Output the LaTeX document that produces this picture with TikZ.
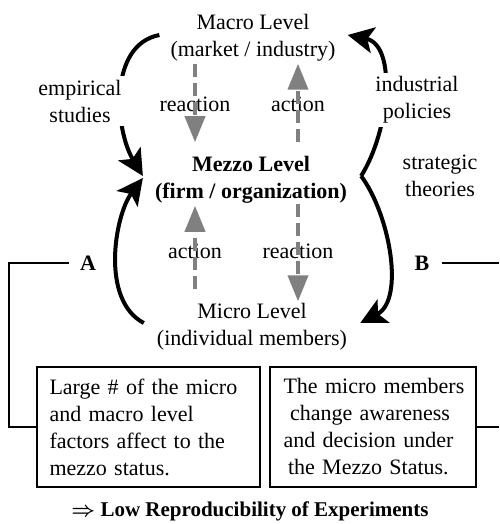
\documentclass[tikz,border=0pt]{standalone}
\usepackage{fontspec}
\setmainfont{Liberation Serif}
\usetikzlibrary{arrows.meta}

\newcommand{\spreadline}[2]{\makebox[#1][s]{#2}}

\begin{document}
\begin{tikzpicture}[x=1pt,y=1pt,font=\fontsize{22}{27}\selectfont]
  \tikzstyle{level} =[align=center, inner sep=2pt]
  \tikzstyle{flow}  =[draw=gray, line width=4pt, dash pattern=on 13pt off 6pt, -{Triangle[length=26pt,width=20pt]}]
  \tikzstyle{bigarc}=[line width=4pt, -{Stealth[length=26pt,width=26pt,inset=6pt]}]
  \tikzstyle{note}  =[draw, line width=1.2pt, minimum height=120pt, inner ysep=4pt]
  \tikzstyle{boldtext}=[font=\fontsize{22}{27}\selectfont\bfseries]
  \useasboundingbox (0,0) rectangle (499,-524);
  % the three levels
  \node[level](macro) at (253,-38) {Macro Level\\(market / industry)};
  \node[level,boldtext](mezzo) at (251,-180) {Mezzo Level\\(firm / organization)};
  \node[level](micro) at (252,-327) {Micro Level\\(individual members)};
  % action / reaction
  \node(r1) at (195,-104) {reaction};
  \node(a1) at (298,-104) {action};
  \node(a2) at (195,-251) {action};
  \node(r2) at (298,-251) {reaction};
  \draw[flow, shorten >=12pt] (r1 |- macro.south) -- (r1 |- mezzo.north);
  \draw[flow, shorten <=12pt] (a1 |- mezzo.north) -- (a1 |- macro.south);
  \draw[flow, shorten <=12pt] (a2 |- micro.north) -- (a2 |- mezzo.south);
  \draw[flow, shorten <=-2pt] (r2 |- mezzo.south) -- (r2 |- micro.north);
  % curved arrows
  \draw[bigarc] ([xshift=-9pt,yshift=3pt]macro.west) .. controls (108,-45) and (115,-130) .. ([xshift=-10pt,yshift=4pt]mezzo.west);
  \draw[bigarc] ([xshift=-11pt,yshift=4pt]micro.west) .. controls (100,-300) and (115,-215) .. ([xshift=-10pt,yshift=2pt]mezzo.west);
  \draw[bigarc] ([xshift=12pt,yshift=4pt]mezzo.east) .. controls (390,-130) and (397,-45) .. ([xshift=10pt,yshift=3pt]macro.east);
  \draw[bigarc] ([xshift=12pt,yshift=4pt]mezzo.east) .. controls (390,-215) and (405,-300) .. ([xshift=11pt,yshift=4pt]micro.east);
  \node[fill=white, align=center](emp) at (80,-101) {empirical\\studies};
  \node[fill=white, align=center](ind) at (417,-100) {industrial\\policies};
  \node[align=center](strat) at (440,-176) {strategic\\theories};
  % A and B
  \node[boldtext](A) at (88,-263) {A};
  \node[boldtext](B) at (422,-263) {B};
  \node[note, text width=198pt, inner xsep=12.5pt, align=left](lbox) at (148.5,-427)
    {\spreadline{185pt}{Large \# of the micro}\\\spreadline{166pt}{and macro level}\\
     \spreadline{179pt}{factors affect to the}\\\spreadline{128pt}{mezzo status.}};
  \node[note, text width=180pt, inner xsep=13pt, align=center](rbox) at (373,-427)
    {\spreadline{179pt}{The micro members}\\\spreadline{166pt}{change awareness}\\
     \spreadline{179pt}{and decision under}\\\spreadline{170pt}{the Mezzo Status.}};
  \coordinate(lc) at (9,-263);
  \coordinate(re1) at (499,-263);
  \coordinate(re2) at (499,-427);
  \draw[line width=1.2pt, shorten <=8pt] (A.west) -- (lc) |- (lbox.west);
  \draw[line width=1.2pt, shorten <=9pt] (B.east) -- (re1);
  \draw[line width=1.2pt] (rbox.east) -- (re2);
  % conclusion
  \node[font=\fontsize{21}{25}\selectfont\bfseries](concl) at (250,-511)
    {{\boldmath$\Rightarrow$} Low Reproducibility of Experiments};
\end{tikzpicture}
\end{document}
